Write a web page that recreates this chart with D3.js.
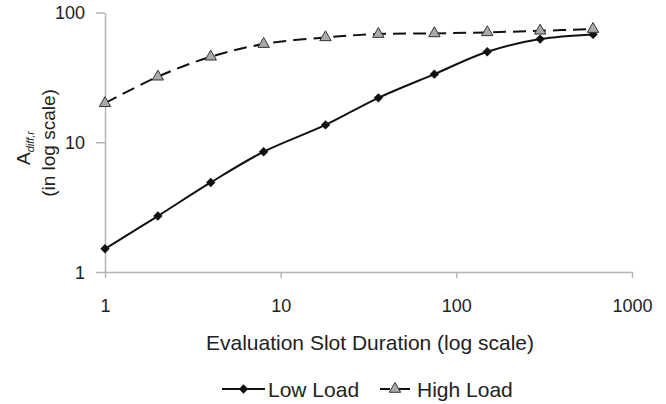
<!DOCTYPE html>
<html>
<head>
<meta charset="utf-8">
<script src="https://cdn.jsdelivr.net/npm/d3@7"></script>
<style>
  body { margin: 0; background: #fff; }
  svg { display: block; font-family: "Liberation Sans", Arial, sans-serif; }
</style>
</head>
<body>
<svg id="chart" width="666" height="404"></svg>
<script>
// slot durations (x) and the two series (y)
const slotDurations = [1, 2, 4, 8, 18, 36, 75, 150, 300, 600];
const lowLoad  = [1.51, 2.7, 4.9, 8.45, 13.6, 22.0, 33.5, 49.8, 62.4, 67.8];
const highLoad = [20, 32, 45.6, 57.1, 64.3, 68.2, 69.0, 70.3, 72.3, 74.5];
const xTicks = [1, 10, 100, 1000];
const yTicks = [1, 10, 100];
const seriesNames = ["Low Load", "High Load"];

let svg = d3.select('#chart')
let margin = {left: 105, right: 632, top: 12.5, bottom: 272}

let x = d3.scaleLog()
.domain([1, 1000])
.range([margin.left, margin.right]);

let y = d3.scaleLog()
.domain([1, 100])
.range([margin.bottom, margin.top]);

// axes
let xAxis = svg.append('g')
.attr('transform', `translate(0,${margin.bottom})`)
.call(d3.axisBottom(x).tickValues(xTicks).tickFormat(d3.format('d')).tickSize(6).tickSizeOuter(0).tickPadding(21));

let yAxis = svg.append('g')
.attr('transform', `translate(${margin.left},0)`)
.call(d3.axisLeft(y).tickValues(yTicks).tickFormat(d3.format('d')).tickSize(9).tickSizeOuter(0).tickPadding(11));

svg.selectAll('.domain, .tick line').attr('stroke', '#b4b4b4').attr('stroke-width', 1.5)
svg.selectAll('.tick text').attr('font-size', 18).attr('fill', '#222').attr('font-family', '"Liberation Sans", Arial, sans-serif')
yAxis.selectAll('.tick text').attr('dy', '0.36em')

// axis titles
svg.append('text')
.attr('x', 370)
.attr('y', 350)
.attr('text-anchor', 'middle')
.attr('font-size', 21)
.attr('fill', '#222')
.text('Evaluation Slot Duration (log scale)')

let yt = svg.append('text')
.attr('transform', 'translate(30,148) rotate(-90)')
.attr('text-anchor', 'middle')
.attr('font-size', 19)
.attr('fill', '#222')
yt.append('tspan').text('A')
yt.append('tspan').attr('font-size', 11).attr('font-style', 'italic').attr('dy', 4).text('diff,r')

svg.append('text')
.attr('transform', 'translate(55,143) rotate(-90)')
.attr('text-anchor', 'middle')
.attr('font-size', 19)
.attr('fill', '#222')
.text('(in log scale)')

// lines
let line = (vals) => d3.line()
.x((d, i) => x(slotDurations[i]))
.y((d) => y(d))
.curve(d3.curveCatmullRom.alpha(0.5))(vals)

svg.append('path')
.attr('d', line(lowLoad))
.attr('fill', 'none')
.attr('stroke', '#111')
.attr('stroke-width', 2)

svg.append('path')
.attr('d', line(highLoad))
.attr('fill', 'none')
.attr('stroke', '#111')
.attr('stroke-width', 2)
.attr('stroke-dasharray', '13,7')

let diamond = d3.symbol().type(d3.symbolDiamond2).size(56)
let triangle = d3.symbol().type(d3.symbolTriangle).size(56)

svg.selectAll('path.low')
.data(lowLoad)
.enter()
.append('path')
.attr('class', 'low')
.attr('d', diamond)
.attr('transform', (d, i) => `translate(${x(slotDurations[i])},${y(d)})`)
.attr('fill', '#111')

svg.selectAll('path.high')
.data(highLoad)
.enter()
.append('path')
.attr('class', 'high')
.attr('d', triangle)
.attr('transform', (d, i) => `translate(${x(slotDurations[i])},${y(d)})`)
.attr('fill', '#aaa')
.attr('stroke', '#333')
.attr('stroke-width', 1)

// legend
let legend = [
    {name: seriesNames[0], x0: 222, x1: 265, tx: 268, dash: null, sym: diamond, fill: '#111', stroke: 'none'},
    {name: seriesNames[1], x0: 380, x1: 410, tx: 417, dash: '10,8,12', sym: triangle, fill: '#aaa', stroke: '#333'}
]
let lg = svg.selectAll('g.legend')
.data(legend)
.enter()
.append('g')
.attr('class', 'legend')

lg.append('line')
.attr('x1', (d) => d.x0)
.attr('x2', (d) => d.x1)
.attr('y1', 389)
.attr('y2', 389)
.attr('stroke', '#111')
.attr('stroke-width', 2)
.attr('stroke-dasharray', (d) => d.dash)

lg.append('path')
.attr('d', (d) => d.sym())
.attr('transform', (d) => `translate(${(d.x0 + d.x1) / 2},389)`)
.attr('fill', (d) => d.fill)
.attr('stroke', (d) => d.stroke)

lg.append('text')
.attr('x', (d) => d.tx)
.attr('y', 397)
.attr('font-size', 21)
.attr('fill', '#222')
.text((d) => d.name)
</script>
</body>
</html>
